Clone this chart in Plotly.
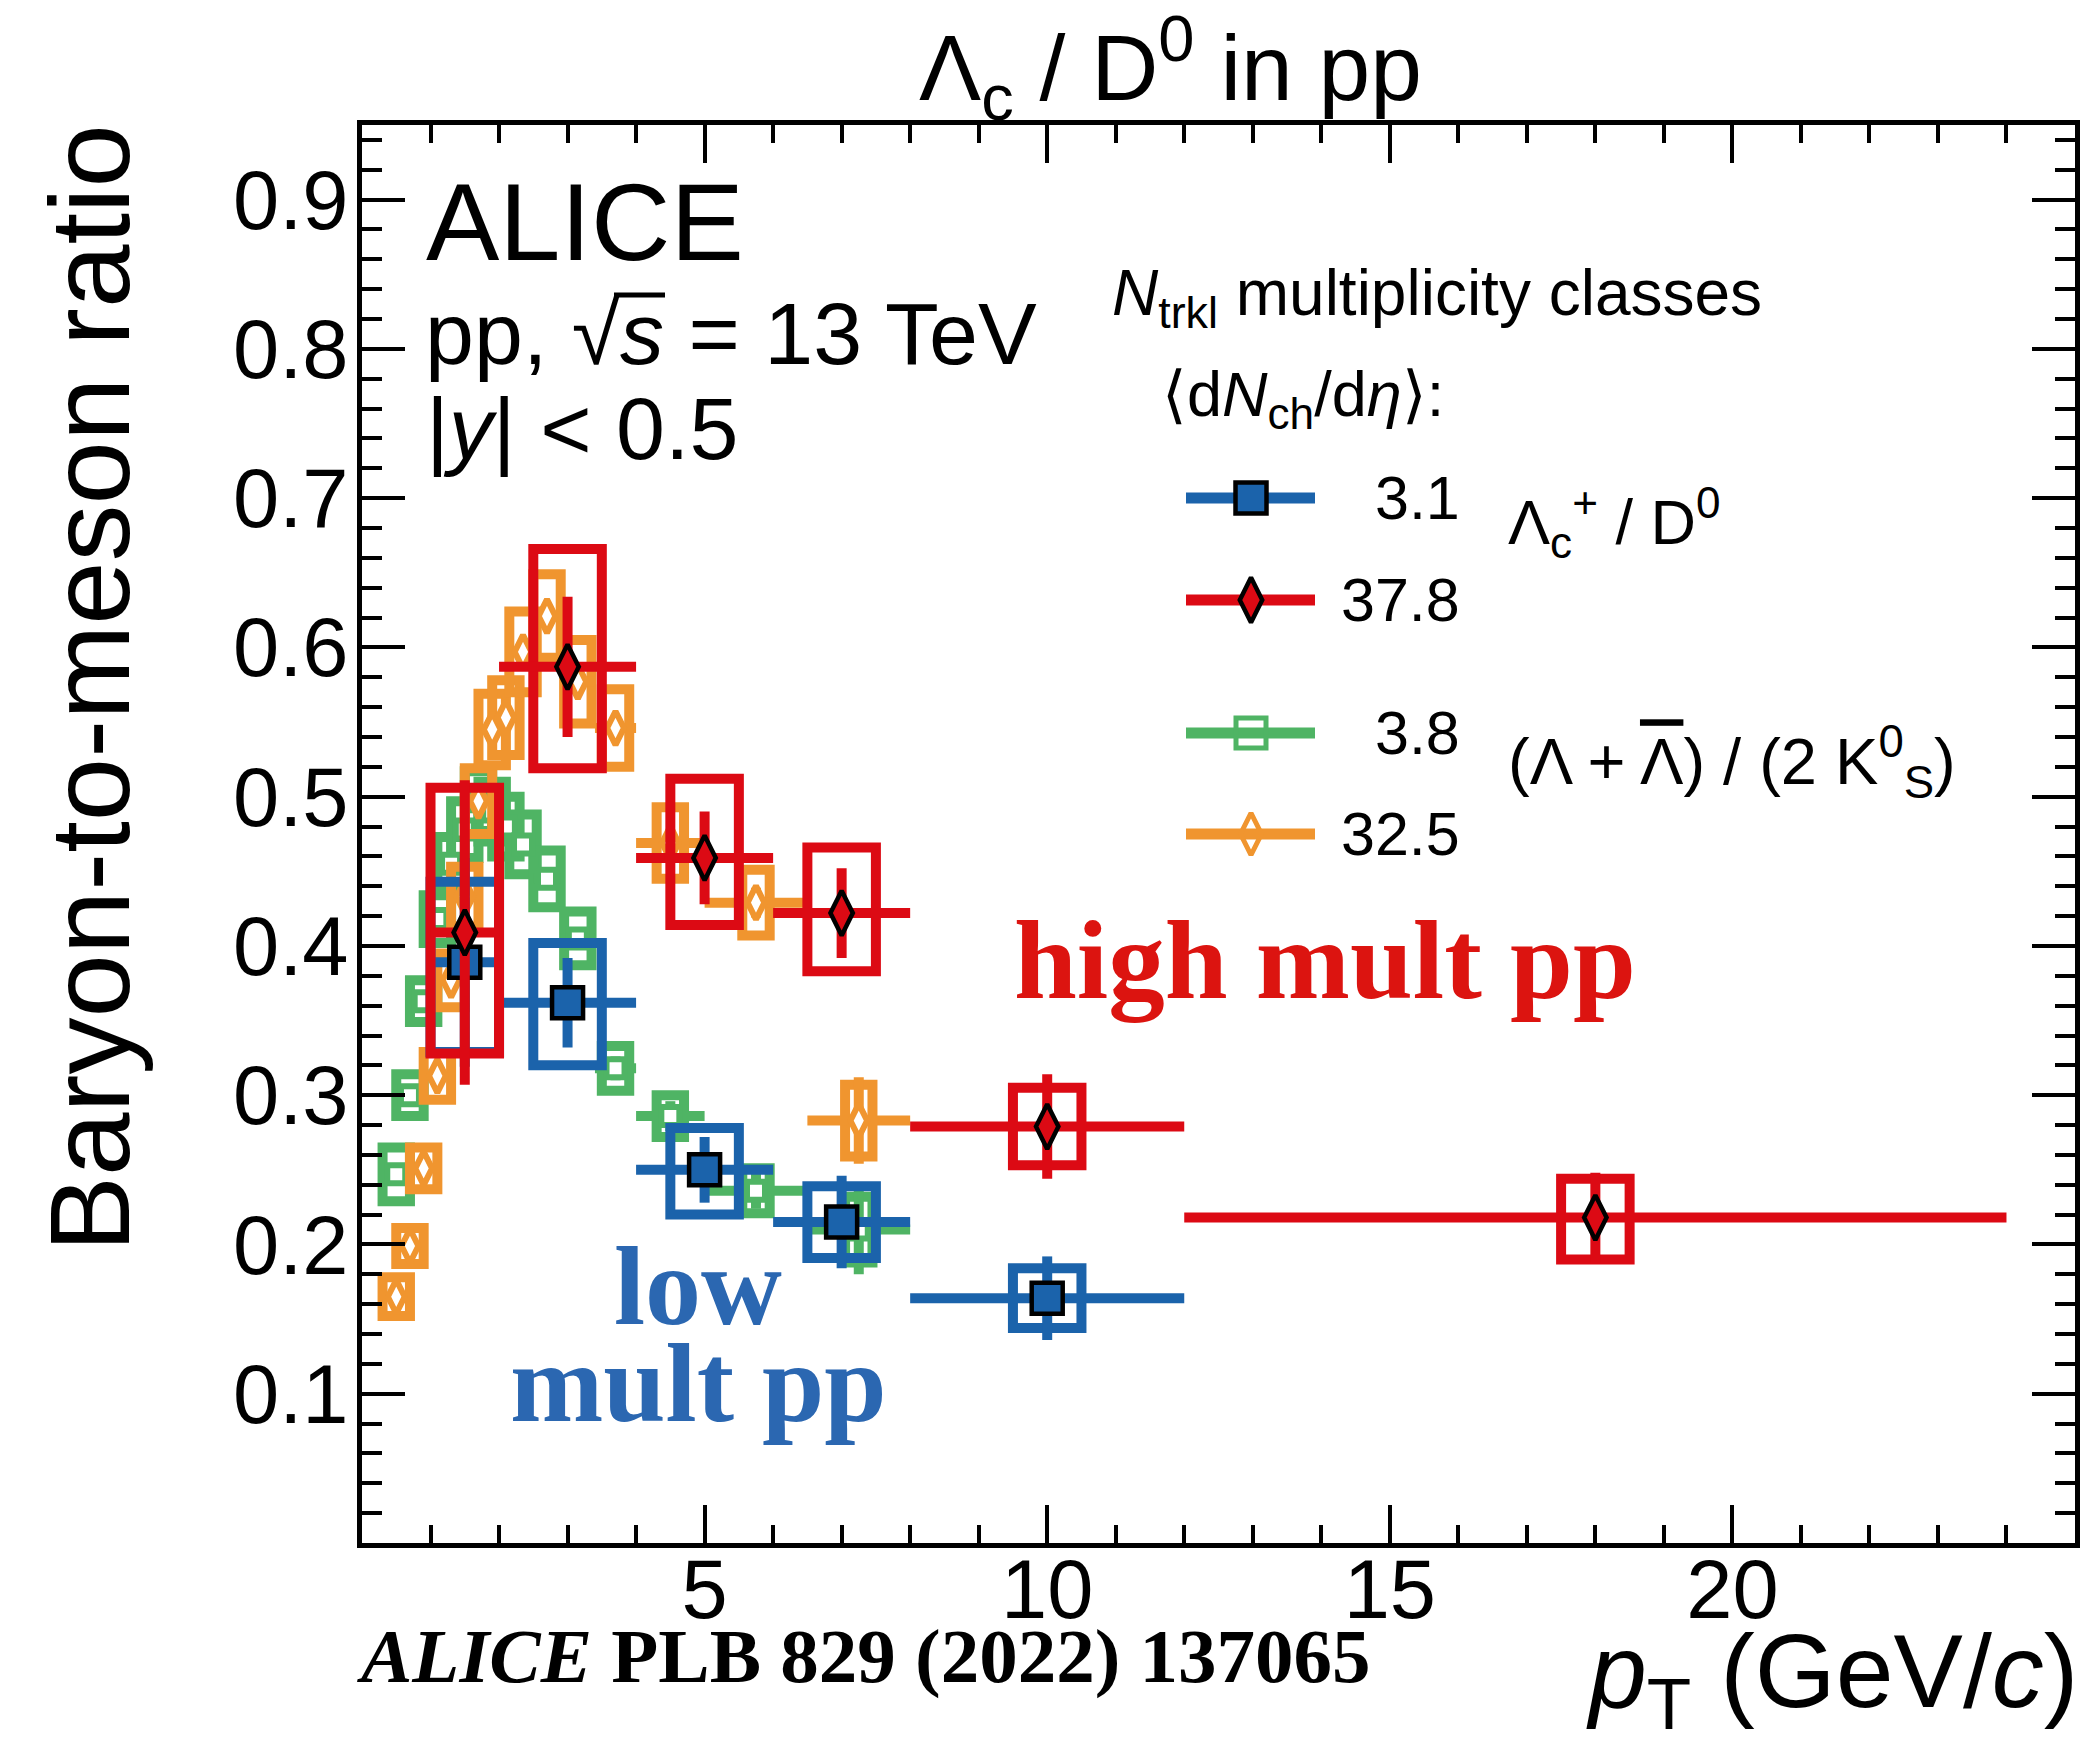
import plotly.graph_objects as go

# ---------------- data ----------------
# Lambda_c+ / D0, <dNch/deta> = 3.1 (low multiplicity)
lc_low_pt = [1.5, 3.0, 5.0, 7.0, 10.0]
lc_low_ptlo = [1.0, 2.0, 4.0, 6.0, 8.0]
lc_low_pthi = [2.0, 4.0, 6.0, 8.0, 12.0]
lc_low_val = [0.389, 0.362, 0.250, 0.215, 0.164]
lc_low_stat = [0.070, 0.030, 0.022, 0.031, 0.028]
lc_low_sys_up = [0.054, 0.040, 0.028, 0.024, 0.020]
lc_low_sys_dn = [0.060, 0.042, 0.030, 0.024, 0.020]

# Lambda_c+ / D0, <dNch/deta> = 37.8 (high multiplicity)
lc_high_pt = [1.5, 3.0, 5.0, 7.0, 10.0, 18.0]
lc_high_ptlo = [1.0, 2.0, 4.0, 6.0, 8.0, 12.0]
lc_high_pthi = [2.0, 4.0, 6.0, 8.0, 12.0, 24.0]
lc_high_val = [0.409, 0.587, 0.459, 0.422, 0.279, 0.218]
lc_high_stat = [0.102, 0.047, 0.031, 0.030, 0.035, 0.030]
lc_high_sys_up = [0.097, 0.079, 0.053, 0.044, 0.026, 0.026]
lc_high_sys_dn = [0.081, 0.068, 0.045, 0.039, 0.026, 0.028]

# (Lambda + anti-Lambda) / (2 K0S)
lk_pt = [0.5, 0.7, 0.9, 1.1, 1.3, 1.5, 1.7, 1.9, 2.1, 2.35, 2.7, 3.15, 3.7, 4.5, 5.75, 7.25]
lk_ptlo = [0.4, 0.6, 0.8, 1.0, 1.2, 1.4, 1.6, 1.8, 2.0, 2.2, 2.5, 2.9, 3.4, 4.0, 5.0, 6.5]
lk_pthi = [0.6, 0.8, 1.0, 1.2, 1.4, 1.6, 1.8, 2.0, 2.2, 2.5, 2.9, 3.4, 4.0, 5.0, 6.5, 8.0]
# <dNch/deta> = 3.8
lk_low_val = [0.247, 0.300, 0.363, 0.418, 0.455, 0.478, 0.497, 0.490, 0.480, 0.468, 0.445, 0.405, 0.318, 0.286, 0.236, 0.210]
lk_low_stat = [0.002, 0.002, 0.003, 0.003, 0.004, 0.004, 0.005, 0.005, 0.005, 0.006, 0.006, 0.007, 0.008, 0.010, 0.012, 0.030]
lk_low_sys = [0.018, 0.014, 0.014, 0.016, 0.018, 0.019, 0.020, 0.020, 0.020, 0.020, 0.019, 0.018, 0.015, 0.014, 0.015, 0.022]
# <dNch/deta> = 32.5
lk_high_val = [0.165, 0.199, 0.251, 0.313, 0.377, 0.433, 0.497, 0.545, 0.553, 0.597, 0.621, 0.577, 0.546, 0.469, 0.429, 0.283]
lk_high_stat = [0.001, 0.001, 0.002, 0.002, 0.002, 0.003, 0.003, 0.003, 0.003, 0.004, 0.004, 0.005, 0.006, 0.008, 0.010, 0.029]
lk_high_sys = [0.013, 0.012, 0.014, 0.016, 0.018, 0.020, 0.022, 0.024, 0.025, 0.027, 0.028, 0.028, 0.026, 0.024, 0.022, 0.024]

x_ticks = [5, 10, 15, 20]
x_ticktext = ["5", "10", "15", "20"]
y_ticks = [0.1, 0.2, 0.3, 0.4, 0.5, 0.6, 0.7, 0.8, 0.9]
y_ticktext = ["0.1", "0.2", "0.3", "0.4", "0.5", "0.6", "0.7", "0.8", "0.9"]

legend_vals = ["3.1", "37.8", "3.8", "32.5"]

# ---------------- style ----------------
BLUE = "#1b63ab"
RED = "#dc0a14"
GREEN = "#4fb464"
ORANGE = "#f0952f"
TXT_BLUE = "#2b67b1"
TXT_RED = "#dc1410"
SANS = "Liberation Sans, Arial, sans-serif"
SERIF = "Liberation Serif, Times New Roman, serif"

W, H = 2086, 1757
ML, MR, MT, MB = 362, 11, 125, 214
PW, PH = W - ML - MR, H - MT - MB


def px(x):
    return (x - ML) / PW


def py(y):
    return (H - MB - y) / PH


fig = go.Figure()


def box_path(xs, ys, up, dn, hw):
    bx, by = [], []
    for x, y, u, d in zip(xs, ys, up, dn):
        x0, x1, y0, y1 = x - hw, x + hw, y - d, y + u
        bx += [x0, x1, x1, x0, x0, x1, None]
        by += [y1, y1, y0, y0, y1, y1, None]
    return bx, by


def add_series(pt, lo, hi, val, stat, sup, sdn, hw, color, msym, msize, mcolor, mline_color, mline_w, box_w, err_w):
    bx, by = box_path(pt, val, sup, sdn, hw)
    fig.add_trace(go.Scatter(x=bx, y=by, mode="lines", line=dict(color=color, width=box_w),
                             hoverinfo="skip", showlegend=False))
    fig.add_trace(go.Scatter(
        x=pt, y=val, mode="markers",
        marker=dict(symbol=msym, size=msize, color=mcolor, line=dict(color=mline_color, width=mline_w)),
        error_y=dict(type="data", array=stat, visible=True, thickness=err_w, width=0, color=color),
        error_x=dict(type="data", array=[h - p for h, p in zip(hi, pt)],
                     arrayminus=[p - l for p, l in zip(pt, lo)], visible=True,
                     thickness=err_w, width=0, color=color),
        showlegend=False, cliponaxis=True))


add_series(lk_pt, lk_ptlo, lk_pthi, lk_low_val, lk_low_stat, lk_low_sys, lk_low_sys, 0.2,
           GREEN, "square", 18, "white", GREEN, 6, 10, 10)
add_series(lk_pt, lk_ptlo, lk_pthi, lk_high_val, lk_high_stat, lk_high_sys, lk_high_sys, 0.2,
           ORANGE, "diamond-tall", 24, "white", ORANGE, 6, 10, 10)
add_series(lc_low_pt, lc_low_ptlo, lc_low_pthi, lc_low_val, lc_low_stat, lc_low_sys_up, lc_low_sys_dn, 0.5,
           BLUE, "square", 31, BLUE, "black", 4.5, 10, 10)
add_series(lc_high_pt, lc_high_ptlo, lc_high_pthi, lc_high_val, lc_high_stat, lc_high_sys_up, lc_high_sys_dn, 0.5,
           RED, "diamond-tall", 32, RED, "black", 4.5, 10, 10)

# ---------------- legend samples (pixel overlay axes) ----------------
leg_y = [498, 600, 733, 834]
leg_col = [BLUE, RED, GREEN, ORANGE]
leg_sym = ["square", "diamond-tall", "square-open", "diamond-tall-open"]
leg_size = [31, 32, 30, 30]
leg_mcol = [BLUE, RED, GREEN, ORANGE]
leg_lcol = ["black", "black", GREEN, ORANGE]
leg_lw = [4.5, 4.5, 5, 5]
for yy, c, s, sz, mc, lc, lw in zip(leg_y, leg_col, leg_sym, leg_size, leg_mcol, leg_lcol, leg_lw):
    fig.add_trace(go.Scatter(x=[1186, 1315], y=[yy, yy], mode="lines", line=dict(color=c, width=11),
                             xaxis="x2", yaxis="y2", hoverinfo="skip", showlegend=False))
    fig.add_trace(go.Scatter(x=[1251], y=[yy], mode="markers",
                             marker=dict(symbol=s, size=sz, color=mc, line=dict(color=lc, width=lw)),
                             xaxis="x2", yaxis="y2", hoverinfo="skip", showlegend=False, cliponaxis=False))

ann = []


def text(x, y, s, size, family=SANS, color="black", xanchor="left", yanchor="middle", angle=0):
    ann.append(dict(x=px(x), y=py(y), xref="paper", yref="paper", text=s, showarrow=False, xanchor=xanchor,
                    yanchor=yanchor, textangle=angle, font=dict(family=family, size=size, color=color)))


for yy, v in zip(leg_y, legend_vals):
    text(1462, yy, v, 61, xanchor="right")

text(1110, 297, "<i>N</i><sub>trkl</sub> multiplicity classes", 64)
text(1160, 398, "\u27e8d<i>N</i><sub>ch</sub>/d<i>\u03b7</i>\u27e9:", 63)
text(1506, 522, "\u039b<sub>c</sub><sup>+</sup> / D<sup>0</sup>", 63)
text(1506, 762, "(\u039b + <span style='text-decoration:overline'>\u039b</span>) / (2 K<sup>0</sup><sub>S</sub>)", 65)

text(424, 221, "ALICE", 110)
text(423, 333, "pp, \u221a<i>s</i> = 13 TeV", 88)
text(424, 428, "|<i>y</i>| < 0.5", 88)

text(1170, 68, "\u039b<sub>c</sub> / D<sup>0</sup> in pp", 93, xanchor="center")
text(89, 688, "Baryon-to-meson ratio", 114, xanchor="center", angle=-90)
text(2080, 1678, "<i>p</i><sub>T</sub> (GeV/<i>c</i>)", 104, xanchor="right")
text(355, 1656, "<b><i>ALICE</i> PLB 829 (2022) 137065</b>", 77, family=SERIF)

text(1012, 960, "<b>high mult pp</b>", 113, family=SERIF, color=TXT_RED)
text(698, 1286, "<b>low</b>", 112, family=SERIF, color=TXT_BLUE, xanchor="center")
text(698, 1383, "<b>mult pp</b>", 112, family=SERIF, color=TXT_BLUE, xanchor="center")

# bar of the square root over "s"
sqrt_bar = dict(type="line", xref="paper", yref="paper", x0=px(614), x1=px(665), y0=py(295), y1=py(295),
                line=dict(color="black", width=5))

axis_common = dict(showline=True, linewidth=5, linecolor="black", mirror="allticks", ticks="inside",
                   tickwidth=4, tickcolor="black", showgrid=False, zeroline=False, automargin=False,
                   tickfont=dict(family=SANS, size=83, color="black"), tickmode="array")

fig.update_layout(
    width=W, height=H, margin=dict(l=ML, r=MR, t=MT, b=MB, pad=0, autoexpand=False),
    paper_bgcolor="white", plot_bgcolor="white", showlegend=False,
    font=dict(family=SANS, color="black"),
    xaxis=dict(range=[0, 25], tickvals=x_ticks, ticktext=x_ticktext, ticklen=38, ticklabelstandoff=-30,
               minor=dict(tickmode="linear", tick0=0, dtick=1, ticklen=18, tickwidth=4, ticks="inside",
                          tickcolor="black"), **axis_common),
    yaxis=dict(range=[0, 0.95], tickvals=y_ticks, ticktext=y_ticktext, ticklen=43, ticklabelstandoff=-8,
               minor=dict(tickmode="linear", tick0=0, dtick=0.02, ticklen=20, tickwidth=4, ticks="inside",
                          tickcolor="black"), **axis_common),
    xaxis2=dict(range=[ML, W - MR], overlaying="x", anchor="y2", visible=False, fixedrange=True),
    yaxis2=dict(range=[H - MB, MT], overlaying="y", anchor="x2", visible=False, fixedrange=True),
    annotations=ann,
    shapes=[sqrt_bar],
)

fig.write_html("out.html", config={"displayModeBar": False},
               post_script="document.body.style.margin='0px';")
